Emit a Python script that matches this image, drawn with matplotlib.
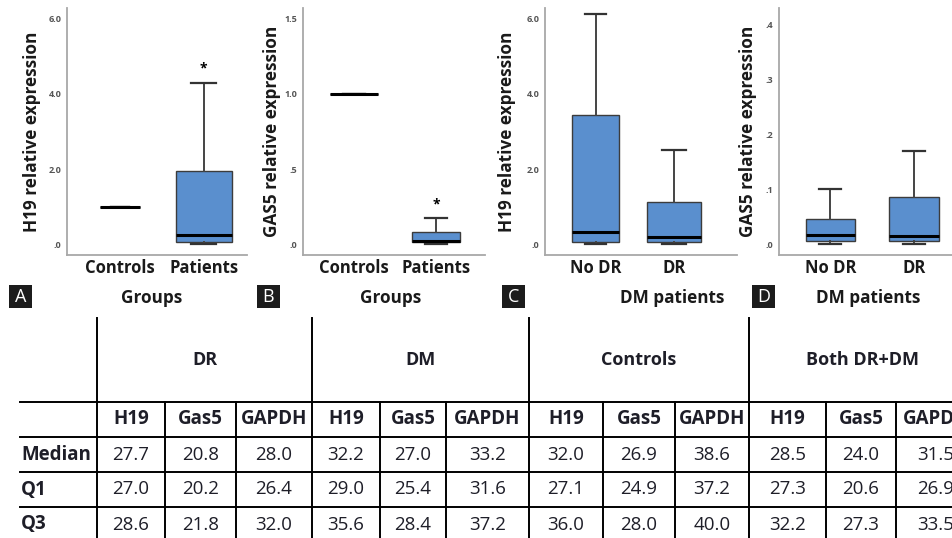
import matplotlib

matplotlib.use("Agg")
import matplotlib.pyplot as plt
from matplotlib.patches import Rectangle
import numpy as np

# ==========================================
# Data
# ==========================================

# box plot stats: whisker low, Q1, median, Q3, whisker high
groups_ab = ["Controls", "Patients"]
groups_cd = ["No DR", "DR"]

h19_controls = [1.0, 1.0, 1.0, 1.0, 1.0]
h19_patients = [0.0, 0.05, 0.25, 1.95, 4.3]
gas5_controls = [1.0, 1.0, 1.0, 1.0, 1.0]
gas5_patients = [0.0, 0.013, 0.017, 0.08, 0.172]
h19_nodr = [0.0, 0.05, 0.33, 3.45, 6.12]
h19_dr = [0.0, 0.06, 0.2, 1.12, 2.5]
gas5_nodr = [0.0, 0.005, 0.017, 0.046, 0.1]
gas5_dr = [0.0, 0.006, 0.015, 0.085, 0.17]

ticks_h19 = [0, 2, 4, 6]
ticklabels_h19 = [".0", "2.0", "4.0", "6.0"]
ticks_gas5_ab = [0, 0.5, 1.0, 1.5]
ticklabels_gas5_ab = [".0", ".5", "1.0", "1.5"]
ticks_gas5_cd = [0, 0.1, 0.2, 0.3, 0.4]
ticklabels_gas5_cd = [".0", ".1", ".2", ".3", ".4"]

# Ct table
table_groups = ["DR", "DM", "Controls", "Both DR+DM"]
genes = ["H19", "Gas5", "GAPDH"]
stat_rows = ["Median", "Q1", "Q3"]
median_vals = [27.7, 20.8, 28.0, 32.2, 27.0, 33.2, 32.0, 26.9, 38.6, 28.5, 24.0, 31.5]
q1_vals = [27.0, 20.2, 26.4, 29.0, 25.4, 31.6, 27.1, 24.9, 37.2, 27.3, 20.6, 26.9]
q3_vals = [28.6, 21.8, 32.0, 35.6, 28.4, 37.2, 36.0, 28.0, 40.0, 32.2, 27.3, 33.5]

# ==========================================
# Layout / style
# ==========================================
W, H = 953, 538
BOX_BLUE = "#5a8fce"
FONT = "Open Sans"

plt.rcParams["font.family"] = [FONT, "DejaVu Sans"]

fig = plt.figure(figsize=(W / 100, H / 100), dpi=100, facecolor="white")


def px_axes(left, top, right, bottom):
    return fig.add_axes([left / W, 1 - bottom / H, (right - left) / W, (bottom - top) / H])


def stats_of(name, vals):
    lo, q1, med, q3, hi = vals
    return {"label": name, "whislo": lo, "q1": q1, "med": med, "q3": q3, "whishi": hi}


panels = [
    # (letter, px box, stats, positions, widths, ylim, ticks, ticklabels, ylabel, xlabel, xlabel_x, ylabel_off, stars, badge x)
    ("A", (67, 8, 247, 255), [stats_of(g, v) for g, v in zip(groups_ab, [h19_controls, h19_patients])],
     [1.09, 2.02], [0.44, 0.62], (-0.29, 6.29), ticks_h19, ticklabels_h19,
     "H19 relative expression", "Groups", 0.47, 35, [False, True], 9),
    ("B", (303, 8, 485, 255), [stats_of(g, v) for g, v in zip(groups_ab, [gas5_controls, gas5_patients])],
     [1.06, 1.96], [0.53, 0.53], (-0.073, 1.573), ticks_gas5_ab, ticklabels_gas5_ab,
     "GAS5 relative expression", "Groups", 0.48, 31, [False, True], 257),
    ("C", (545, 8, 737, 255), [stats_of(g, v) for g, v in zip(groups_cd, [h19_nodr, h19_dr])],
     [1.03, 1.84], [0.49, 0.56], (-0.29, 6.29), ticks_h19, ticklabels_h19,
     "H19 relative expression", "DM patients", 0.66, 38, [False, False], 502),
    ("D", (779, 8, 953, 255), [stats_of(g, v) for g, v in zip(groups_cd, [gas5_nodr, gas5_dr])],
     [1.09, 2.05], [0.56, 0.57], (-0.020, 0.431), ticks_gas5_cd, ticklabels_gas5_cd,
     "GAS5 relative expression", "DM patients", 0.51, 31, [False, False], 752),
]

for (letter, box, stats, pos, widths, ylim, ticks, tlabels, ylab, xlab, xlab_x,
     ylab_off, stars, letter_x) in panels:
    ax = px_axes(*box)
    ax.bxp(stats, positions=pos, widths=widths, capwidths=[w * 0.45 for w in widths],
           showfliers=False, patch_artist=True,
           boxprops=dict(facecolor=BOX_BLUE, edgecolor="#3c3c3c", linewidth=1.0),
           medianprops=dict(color="black", linewidth=2.2),
           whiskerprops=dict(color="#444444", linewidth=1.4),
           capprops=dict(color="#333333", linewidth=1.6))
    ax.set_xlim(0.5, 2.5)
    ax.set_ylim(*ylim)
    ax.set_yticks(ticks)
    ax.set_yticklabels(tlabels, fontsize=6.5, fontweight="bold", color="#555555")
    ax.tick_params(axis="y", length=0, pad=4)
    ax.tick_params(axis="x", length=0, pad=3)
    ax.set_xticks(pos)
    ax.set_xticklabels([s["label"] for s in stats], fontsize=12, fontweight="bold", color="#1a1a1a")
    for sp in ["top", "right"]:
        ax.spines[sp].set_visible(False)
    for sp in ["left", "bottom"]:
        ax.spines[sp].set_color("#a8a8a8")
        ax.spines[sp].set_linewidth(1.3)
    ax.set_facecolor("none")

    axw = box[2] - box[0]
    axh = box[3] - box[1]
    ax.set_ylabel(ylab, fontsize=12.4, fontweight="bold", color="#1a1a1a")
    ax.yaxis.set_label_coords(-ylab_off / axw, 0.5)
    ax.yaxis.label.set_va("center")
    ax.set_xlabel(xlab, fontsize=12.3, fontweight="bold", color="#1a1a1a")
    ax.xaxis.set_label_coords(xlab_x, -(298 - box[3]) / axh)
    ax.xaxis.label.set_va("center")

    for p, s, star in zip(pos, stats, stars):
        if star:
            ax.annotate("*", (p, s["whishi"]), xytext=(0, 5), textcoords="offset points",
                        ha="center", va="bottom", fontsize=10, fontweight="bold")

    # panel letter badge
    fig.patches.append(Rectangle((letter_x / W, 1 - 308 / H), 23 / W, 23 / H,
                                 transform=fig.transFigure, facecolor="#1c1c1c",
                                 edgecolor="none"))
    fig.text((letter_x + 11.5) / W, 1 - 296.5 / H, letter, color="white", fontsize=13,
             ha="center", va="center")

# ==========================================
# Table
# ==========================================
tax = fig.add_axes([0, 0, 1, 1])
tax.set_xlim(0, W)
tax.set_ylim(H, 0)
tax.axis("off")
tax.patch.set_visible(False)

x0 = 20
label_w = 77
sub_widths = [68, 71, 76, 68, 66, 83, 74, 72, 74, 77, 70, 80]
row_heights = [84, 35, 35, 35, 35]
y0 = 318

col_edges = x0 + label_w + np.concatenate([[0], np.cumsum(sub_widths)])
row_edges = y0 + np.concatenate([[0], np.cumsum(row_heights)])
group_edges = col_edges[::3]
col_centers = (col_edges[:-1] + col_edges[1:]) / 2
row_centers = (row_edges[:-1] + row_edges[1:]) / 2

line_kw = dict(color="black", linewidth=1.4)
for ye in row_edges[1:-1]:
    tax.plot([x0, W], [ye, ye], **line_kw)
for xe in group_edges:
    tax.plot([xe, xe], [row_edges[0], H], **line_kw)
for i, xe in enumerate(col_edges):
    if i % 3:
        tax.plot([xe, xe], [row_edges[1], H], **line_kw)

txt = "#1e1e28"
fs = 13.5
for g, (a, b) in enumerate(zip(group_edges[:-1], group_edges[1:])):
    tax.text((a + b) / 2, row_centers[0], table_groups[g], ha="center", va="center",
             fontsize=13, fontweight="bold", color=txt)
for j, c in enumerate(col_centers):
    tax.text(c, row_centers[1], genes[j % 3], ha="center", va="center",
             fontsize=fs, fontweight="bold", color=txt)
for r, (name, vals) in enumerate(zip(stat_rows, [median_vals, q1_vals, q3_vals])):
    yc = row_centers[r + 2]
    tax.text(x0 + 1, yc, name, ha="left", va="center", fontsize=fs, fontweight="bold", color=txt)
    for c, v in zip(col_centers, vals):
        tax.text(c, yc, f"{v:.1f}", ha="center", va="center", fontsize=fs, color=txt)

fig.savefig("out.png", dpi=100, facecolor="white")
